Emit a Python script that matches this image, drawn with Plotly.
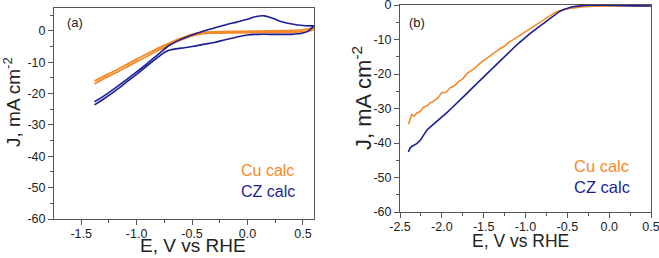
import plotly.graph_objects as go

W, H = 659, 258
ORANGE = "#F58A2A"
BLUE = "#1B1F93"
FONT = "Arial, Liberation Sans, sans-serif"

# ---------- Panel (a): cyclic voltammograms ----------
cu_a_E_fwd = [-1.38, -1.3, -1.2, -1.1, -1.0, -0.9, -0.8, -0.7, -0.6, -0.5, -0.4, -0.3, -0.1, 0.1, 0.3, 0.45, 0.55, 0.6]
cu_a_J_fwd = [-16.9, -15.3, -13.6, -11.7, -9.8, -8.0, -6.1, -4.4, -2.9, -1.6, -0.9, -0.7, -0.6, -0.55, -0.5, -0.35, -0.1, 0.6]
cu_a_E_rev = [0.6, 0.5, 0.3, 0.1, -0.1, -0.3, -0.4, -0.5, -0.6, -0.7, -0.8, -0.9, -1.0, -1.1, -1.2, -1.3, -1.38]
cu_a_J_rev = [0.9, 0.3, 0.05, -0.05, -0.15, -0.3, -0.5, -1.1, -2.3, -3.8, -5.4, -7.2, -9.0, -10.9, -12.8, -14.5, -16.0]

cz_a_E_fwd = [-1.38, -1.3, -1.2, -1.1, -1.0, -0.9, -0.8, -0.75, -0.7, -0.6, -0.5, -0.4, -0.3, -0.2, -0.1, 0.0, 0.1, 0.2, 0.3, 0.4, 0.5, 0.55, 0.6]
cz_a_J_fwd = [-23.6, -21.8, -19.3, -16.6, -13.9, -11.0, -8.2, -6.9, -6.1, -5.5, -5.0, -4.3, -3.7, -2.8, -2.0, -1.3, -1.1, -1.1, -1.1, -1.1, -0.7, 0.0, 1.6]
cz_a_E_rev = [0.6, 0.5, 0.4, 0.3, 0.22, 0.15, 0.08, 0.0, -0.1, -0.2, -0.3, -0.4, -0.5, -0.6, -0.7, -0.8, -0.9, -1.0, -1.1, -1.2, -1.3, -1.38]
cz_a_J_rev = [1.6, 1.7, 2.2, 3.0, 4.1, 4.8, 4.6, 3.7, 2.8, 1.9, 0.9, -0.1, -1.3, -2.7, -4.5, -7.3, -10.3, -13.1, -15.8, -18.4, -20.9, -22.6]

# ---------- Panel (b): linear sweeps ----------
cu_b_E = [-2.40, -2.38, -2.36, -2.33, -2.30, -2.26, -2.22, -2.18, -2.14, -2.10, -2.05, -2.00, -1.95, -1.90,
          -1.85, -1.80, -1.75, -1.70, -1.65, -1.60, -1.55, -1.50, -1.45, -1.40, -1.35, -1.30, -1.25, -1.20,
          -1.15, -1.10, -1.05, -1.00, -0.95, -0.90, -0.85, -0.80, -0.75, -0.70, -0.65, -0.60, -0.55, -0.50,
          -0.45, -0.40, -0.35, -0.30, -0.20, -0.10, 0.00, 0.10, 0.20, 0.30, 0.40, 0.50]
cu_b_J = [-34.6, -33.0, -31.8, -32.2, -31.3, -30.9, -29.6, -29.3, -28.4, -27.9, -27.0, -25.4, -25.3, -24.0,
          -23.4, -22.2, -21.4, -19.9, -19.1, -18.2, -17.0, -16.1, -15.4, -14.5, -13.6, -12.6, -11.9, -10.8,
          -10.1, -9.3, -8.5, -7.7, -6.9, -6.1, -5.3, -4.5, -3.7, -2.9, -2.2, -1.7, -1.3, -1.1,
          -0.9, -0.7, -0.6, -0.5, -0.35, -0.3, -0.25, -0.25, -0.2, -0.2, -0.2, -0.2]
cz_b_E = cu_b_E
cz_b_J = [-42.6, -41.5, -41.0, -40.6, -40.2, -39.3, -37.6, -36.3, -35.4, -34.6, -33.6, -32.4, -31.4, -30.3,
          -29.2, -28.0, -26.8, -25.6, -24.4, -23.2, -22.0, -20.8, -19.6, -18.4, -17.2, -16.0, -14.9, -13.7,
          -12.6, -11.5, -10.4, -9.4, -8.4, -7.4, -6.5, -5.5, -4.6, -3.7, -2.8, -2.0, -1.4, -0.9,
          -0.6, -0.4, -0.2, -0.1, 0.0, 0.0, -0.1, -0.2, -0.2, -0.25, -0.3, -0.3]

# ---------- Tick labels ----------
xa_ticks = [-1.5, -1.0, -0.5, 0.0, 0.5]
xa_labels = ["-1.5", "-1.0", "-0.5", "0.0", "0.5"]
xb_ticks = [-2.5, -2.0, -1.5, -1.0, -0.5, 0.0, 0.5]
xb_labels = ["-2.5", "-2.0", "-1.5", "-1.0", "-0.5", "0.0", "0.5"]
y_ticks = [0, -10, -20, -30, -40, -50, -60]
y_labels = ["0", "-10", "-20", "-30", "-40", "-50", "-60"]

fig = go.Figure()
fig.add_trace(go.Scatter(x=cu_a_E_fwd + cu_a_E_rev, y=cu_a_J_fwd + cu_a_J_rev, mode="lines",
                         line=dict(color=ORANGE, width=1.8, shape="spline"), xaxis="x", yaxis="y"))
fig.add_trace(go.Scatter(x=cz_a_E_fwd + cz_a_E_rev, y=cz_a_J_fwd + cz_a_J_rev, mode="lines",
                         line=dict(color=BLUE, width=1.6, shape="spline"), xaxis="x", yaxis="y"))
fig.add_trace(go.Scatter(x=cu_b_E, y=cu_b_J, mode="lines",
                         line=dict(color=ORANGE, width=1.6), xaxis="x2", yaxis="y2"))
fig.add_trace(go.Scatter(x=cz_b_E, y=cz_b_J, mode="lines",
                         line=dict(color=BLUE, width=1.6), xaxis="x2", yaxis="y2"))


def px_x(p):
    return p / W


def px_y(p):
    return 1 - p / H


axis_common = dict(showline=True, linecolor="#555", linewidth=1, mirror=True, ticks="outside",
                   ticklen=5, tickcolor="#555", showgrid=False, zeroline=False,
                   automargin=False, ticklabeloverflow="allow",
                   tickfont=dict(family=FONT, size=12.5, color="#222"))

fig.update_layout(
    width=W, height=H, margin=dict(l=0, r=0, t=0, b=0, autoexpand=False),
    paper_bgcolor="white", plot_bgcolor="white", showlegend=False,
    xaxis=dict(domain=[px_x(54), px_x(314)], range=[-1.745, 0.6], anchor="y",
               tickvals=xa_ticks, ticktext=xa_labels, ticklabelstandoff=-2,
               minor=dict(dtick=0.25, tick0=0, ticks="outside", ticklen=3, tickcolor="#555"),
               **axis_common),
    yaxis=dict(domain=[px_y(219), px_y(8)], range=[-60, 7.3], anchor="x",
               tickvals=y_ticks, ticktext=y_labels,
               minor=dict(dtick=5, tick0=0, ticks="outside", ticklen=3, tickcolor="#555"),
               **axis_common),
    xaxis2=dict(domain=[px_x(400), px_x(651)], range=[-2.5, 0.5], anchor="y2",
                tickvals=xb_ticks, ticktext=xb_labels, ticklabelstandoff=-2,
                minor=dict(dtick=0.25, tick0=0, ticks="outside", ticklen=3, tickcolor="#555"),
                **axis_common),
    yaxis2=dict(domain=[px_y(212), px_y(5)], range=[-60, 0], anchor="x2",
                tickvals=y_ticks, ticktext=y_labels,
                minor=dict(dtick=5, tick0=0, ticks="outside", ticklen=3, tickcolor="#555"),
                **axis_common),
)


def ann(text, x, y, size, color="#222", xanchor="center", angle=0):
    fig.add_annotation(text=text, x=px_x(x), y=px_y(y), xref="paper", yref="paper",
                       showarrow=False, xanchor=xanchor, yanchor="middle", textangle=angle,
                       font=dict(family=FONT, size=size, color=color))


ann("E, V vs RHE", 193, 245, 19)
ann("E, V vs RHE", 520, 241, 17.5)
ann("J, mA cm<sup>-2</sup>", 12, 102, 19, angle=-90)
ann("J, mA cm<sup>-2</sup>", 362, 98, 22, angle=-90)
ann("(a)", 65, 22, 13, xanchor="left")
ann("(b)", 407, 22, 13, xanchor="left")
ann("Cu calc", 239, 170, 16, color=ORANGE, xanchor="left")
ann("CZ calc", 239, 191, 16, color=BLUE, xanchor="left")
ann("Cu calc", 572, 166, 16.5, color=ORANGE, xanchor="left")
ann("CZ calc", 572, 187, 16.5, color=BLUE, xanchor="left")

fig.write_html("out.html", config={"displayModeBar": False},
               post_script="document.body.style.margin='0';document.body.style.overflow='hidden';")
